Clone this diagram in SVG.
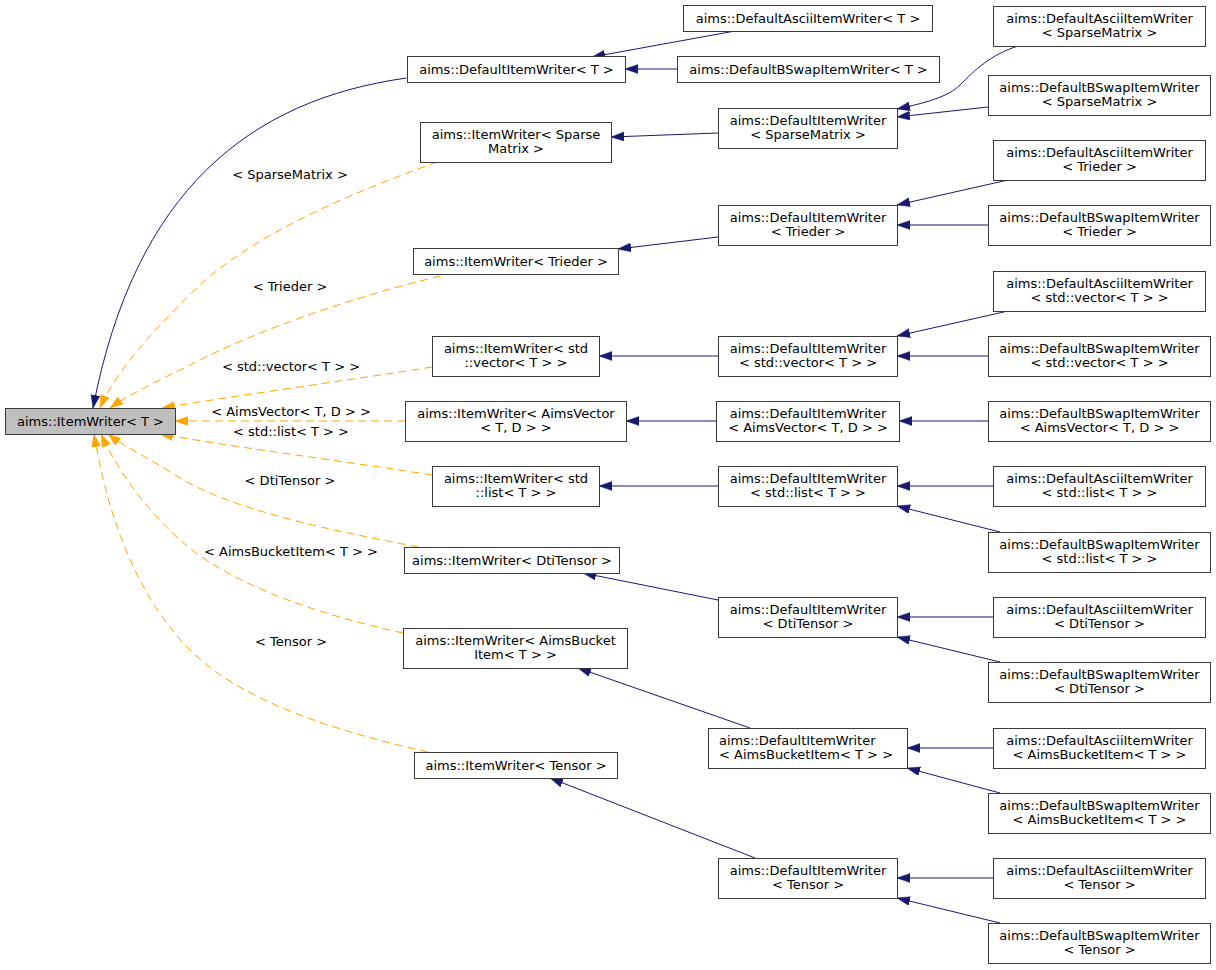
<svg xmlns="http://www.w3.org/2000/svg" width="1216" height="970" viewBox="0 0 1216 970">
<style>
  .n rect { fill: #ffffff; stroke: #3a3a3a; stroke-width: 1; }
  .n.root rect { fill: #bfbfbf; }
  .n text, .lbl { font-family: "DejaVu Sans", "Liberation Sans", sans-serif; font-size: 13px; fill: #000000; text-anchor: middle; }
  .n text.l { text-anchor: start; }
  .e { fill: none; stroke: #191970; stroke-width: 1; marker-end: url(#an); }
  .t { fill: none; stroke: #ffa500; stroke-width: 1; stroke-dasharray: 8,5; marker-end: url(#ao); }
</style>
<defs>
  <marker id="an" markerUnits="userSpaceOnUse" markerWidth="14" markerHeight="10" refX="13" refY="4.5" orient="auto" viewBox="0 0 14 10">
    <path d="M0,0 L13,4.5 L0,9 z" fill="#191970" stroke="#191970" stroke-width="0.5"/>
  </marker>
  <marker id="ao" markerUnits="userSpaceOnUse" markerWidth="14" markerHeight="10" refX="13" refY="4.5" orient="auto" viewBox="0 0 14 10">
    <path d="M0,0 L13,4.5 L0,9 z" fill="#ffa500" stroke="#ffa500" stroke-width="0.5"/>
  </marker>
</defs>
<rect width="1216" height="970" fill="#ffffff"/>

<g id="connectors">
  <path class="e" d="M406.5,78 C250,100 135,190 93,408"/>
  <path class="e" d="M735,31 L592,57"/>
  <path class="e" d="M677,69 L625,69"/>
  <path class="e" d="M718,133 L611,137"/>
  <path class="e" d="M1018,46 C990,55 975,70 960,85 C948,97 925,103 897,109"/>
  <path class="e" d="M988,107 L897,117"/>
  <path class="e" d="M718,237 L618,249"/>
  <path class="e" d="M1008,180 L897,205"/>
  <path class="e" d="M988,225 L897,225"/>
  <path class="e" d="M718,356 L599,356"/>
  <path class="e" d="M1008,311 L897,336"/>
  <path class="e" d="M988,356 L897,356"/>
  <path class="e" d="M716,421 L626,421"/>
  <path class="e" d="M988,421 L899,421"/>
  <path class="e" d="M718,486 L599,486"/>
  <path class="e" d="M993,486 L897,486"/>
  <path class="e" d="M1000,532 L897,506"/>
  <path class="e" d="M718,600 L583,573"/>
  <path class="e" d="M993,617 L897,617"/>
  <path class="e" d="M1000,662 L897,637"/>
  <path class="e" d="M750,728 L578,668"/>
  <path class="e" d="M993,748 L907,748"/>
  <path class="e" d="M1000,793 L907,768"/>
  <path class="e" d="M755,858 L550,778"/>
  <path class="e" d="M993,878 L897,878"/>
  <path class="e" d="M1000,923 L897,898"/>

  <path class="t" d="M437,162 C360,190 260,230 200,285 C155,328 115,372 100,408"/>
  <path class="t" d="M453,273 C380,290 280,320 200,360 C160,380 128,395 110,408"/>
  <path class="t" d="M432,367 C350,380 240,395 162,408"/>
  <path class="t" d="M405,421 L175,421"/>
  <path class="t" d="M432,475 C350,462 240,448 160,434"/>
  <path class="t" d="M418,547 C330,530 230,510 175,475 C145,456 122,445 108,434"/>
  <path class="t" d="M403,633 C320,615 230,585 180,540 C140,503 115,465 101,434"/>
  <path class="t" d="M428,752 C330,730 240,700 190,650 C130,590 105,500 94,434"/>

  <text class="lbl" x="290" y="179">&lt; SparseMatrix &gt;</text>
  <text class="lbl" x="290" y="291">&lt; Trieder &gt;</text>
  <text class="lbl" x="291" y="371">&lt; std::vector&lt; T &gt; &gt;</text>
  <text class="lbl" x="291" y="416">&lt; AimsVector&lt; T, D &gt; &gt;</text>
  <text class="lbl" x="291" y="436">&lt; std::list&lt; T &gt; &gt;</text>
  <text class="lbl" x="290" y="485">&lt; DtiTensor &gt;</text>
  <text class="lbl" x="291" y="556">&lt; AimsBucketItem&lt; T &gt; &gt;</text>
  <text class="lbl" x="291" y="646">&lt; Tensor &gt;</text>
</g>

<g id="n0" class="n root"><rect x="5.5" y="408.5" width="170" height="26"/><text x="90.5" y="425.5">aims::ItemWriter&lt; T &gt;</text></g>
<g id="n1" class="n"><rect x="407.5" y="56.5" width="218" height="26"/><text x="516.5" y="73.5">aims::DefaultItemWriter&lt; T &gt;</text></g>
<g id="n2" class="n"><rect x="683.5" y="5.5" width="249" height="26"/><text x="808" y="22.5">aims::DefaultAsciiItemWriter&lt; T &gt;</text></g>
<g id="n3" class="n"><rect x="677.5" y="56.5" width="262" height="26"/><text x="808.5" y="73.5">aims::DefaultBSwapItemWriter&lt; T &gt;</text></g>

<g id="n4" class="n"><rect x="420.5" y="122.5" width="191" height="40"/><text x="516" y="138.5">aims::ItemWriter&lt; Sparse</text><text x="516" y="153">Matrix &gt;</text></g>
<g id="n5" class="n"><rect x="718.5" y="108.5" width="179" height="40"/><text x="808" y="124.5">aims::DefaultItemWriter</text><text x="808" y="139">&lt; SparseMatrix &gt;</text></g>
<g id="n6" class="n"><rect x="993.5" y="6.5" width="212" height="40"/><text x="1099.5" y="22.5">aims::DefaultAsciiItemWriter</text><text x="1099.5" y="37">&lt; SparseMatrix &gt;</text></g>
<g id="n7" class="n"><rect x="988.5" y="75.5" width="222" height="40"/><text x="1099.5" y="91.5">aims::DefaultBSwapItemWriter</text><text x="1099.5" y="106">&lt; SparseMatrix &gt;</text></g>

<g id="n8" class="n"><rect x="413.5" y="248.5" width="205" height="26"/><text x="516" y="265.5">aims::ItemWriter&lt; Trieder &gt;</text></g>
<g id="n9" class="n"><rect x="718.5" y="205.5" width="179" height="40"/><text x="808" y="221.5">aims::DefaultItemWriter</text><text x="808" y="236">&lt; Trieder &gt;</text></g>
<g id="n10" class="n"><rect x="993.5" y="140.5" width="212" height="40"/><text x="1099.5" y="156.5">aims::DefaultAsciiItemWriter</text><text x="1099.5" y="171">&lt; Trieder &gt;</text></g>
<g id="n11" class="n"><rect x="988.5" y="205.5" width="222" height="40"/><text x="1099.5" y="221.5">aims::DefaultBSwapItemWriter</text><text x="1099.5" y="236">&lt; Trieder &gt;</text></g>

<g id="n12" class="n"><rect x="432.5" y="336.5" width="167" height="40"/><text x="516" y="352.5">aims::ItemWriter&lt; std</text><text x="516" y="367">::vector&lt; T &gt; &gt;</text></g>
<g id="n13" class="n"><rect x="718.5" y="336.5" width="179" height="40"/><text x="808" y="352.5">aims::DefaultItemWriter</text><text x="808" y="367">&lt; std::vector&lt; T &gt; &gt;</text></g>
<g id="n14" class="n"><rect x="993.5" y="271.5" width="212" height="40"/><text x="1099.5" y="287.5">aims::DefaultAsciiItemWriter</text><text x="1099.5" y="302">&lt; std::vector&lt; T &gt; &gt;</text></g>
<g id="n15" class="n"><rect x="988.5" y="336.5" width="222" height="40"/><text x="1099.5" y="352.5">aims::DefaultBSwapItemWriter</text><text x="1099.5" y="367">&lt; std::vector&lt; T &gt; &gt;</text></g>

<g id="n16" class="n"><rect x="405.5" y="401.5" width="221" height="40"/><text x="516" y="417.5">aims::ItemWriter&lt; AimsVector</text><text x="516" y="432">&lt; T, D &gt; &gt;</text></g>
<g id="n17" class="n"><rect x="716.5" y="401.5" width="183" height="40"/><text x="808" y="417.5">aims::DefaultItemWriter</text><text x="808" y="432">&lt; AimsVector&lt; T, D &gt; &gt;</text></g>
<g id="n18" class="n"><rect x="988.5" y="401.5" width="222" height="40"/><text x="1099.5" y="417.5">aims::DefaultBSwapItemWriter</text><text x="1099.5" y="432">&lt; AimsVector&lt; T, D &gt; &gt;</text></g>

<g id="n19" class="n"><rect x="432.5" y="466.5" width="167" height="40"/><text x="516" y="482.5">aims::ItemWriter&lt; std</text><text x="516" y="497">::list&lt; T &gt; &gt;</text></g>
<g id="n20" class="n"><rect x="718.5" y="466.5" width="179" height="40"/><text x="808" y="482.5">aims::DefaultItemWriter</text><text x="808" y="497">&lt; std::list&lt; T &gt; &gt;</text></g>
<g id="n21" class="n"><rect x="993.5" y="466.5" width="212" height="40"/><text x="1099.5" y="482.5">aims::DefaultAsciiItemWriter</text><text x="1099.5" y="497">&lt; std::list&lt; T &gt; &gt;</text></g>
<g id="n22" class="n"><rect x="988.5" y="532.5" width="222" height="40"/><text x="1099.5" y="548.5">aims::DefaultBSwapItemWriter</text><text x="1099.5" y="563">&lt; std::list&lt; T &gt; &gt;</text></g>

<g id="n23" class="n"><rect x="404.5" y="547.5" width="215" height="26"/><text x="512" y="564.5">aims::ItemWriter&lt; DtiTensor &gt;</text></g>
<g id="n24" class="n"><rect x="718.5" y="597.5" width="179" height="40"/><text x="808" y="613.5">aims::DefaultItemWriter</text><text x="808" y="628">&lt; DtiTensor &gt;</text></g>
<g id="n25" class="n"><rect x="993.5" y="597.5" width="212" height="40"/><text x="1099.5" y="613.5">aims::DefaultAsciiItemWriter</text><text x="1099.5" y="628">&lt; DtiTensor &gt;</text></g>
<g id="n26" class="n"><rect x="988.5" y="662.5" width="222" height="40"/><text x="1099.5" y="678.5">aims::DefaultBSwapItemWriter</text><text x="1099.5" y="693">&lt; DtiTensor &gt;</text></g>

<g id="n27" class="n"><rect x="403.5" y="628.5" width="224" height="40"/><text x="515.5" y="644.5">aims::ItemWriter&lt; AimsBucket</text><text x="515.5" y="659">Item&lt; T &gt; &gt;</text></g>
<g id="n28" class="n"><rect x="708.5" y="728.5" width="199" height="40"/><text class="l" x="719" y="744.5">aims::DefaultItemWriter</text><text class="l" x="719" y="759">&lt; AimsBucketItem&lt; T &gt; &gt;</text></g>
<g id="n29" class="n"><rect x="993.5" y="728.5" width="212" height="40"/><text x="1099.5" y="744.5">aims::DefaultAsciiItemWriter</text><text x="1099.5" y="759">&lt; AimsBucketItem&lt; T &gt; &gt;</text></g>
<g id="n30" class="n"><rect x="988.5" y="793.5" width="222" height="40"/><text x="1099.5" y="809.5">aims::DefaultBSwapItemWriter</text><text x="1099.5" y="824">&lt; AimsBucketItem&lt; T &gt; &gt;</text></g>

<g id="n31" class="n"><rect x="414.5" y="752.5" width="203" height="26"/><text x="516" y="769.5">aims::ItemWriter&lt; Tensor &gt;</text></g>
<g id="n32" class="n"><rect x="718.5" y="858.5" width="179" height="40"/><text x="808" y="874.5">aims::DefaultItemWriter</text><text x="808" y="889">&lt; Tensor &gt;</text></g>
<g id="n33" class="n"><rect x="993.5" y="858.5" width="212" height="40"/><text x="1099.5" y="874.5">aims::DefaultAsciiItemWriter</text><text x="1099.5" y="889">&lt; Tensor &gt;</text></g>
<g id="n34" class="n"><rect x="988.5" y="923.5" width="222" height="40"/><text x="1099.5" y="939.5">aims::DefaultBSwapItemWriter</text><text x="1099.5" y="954">&lt; Tensor &gt;</text></g>
</svg>
